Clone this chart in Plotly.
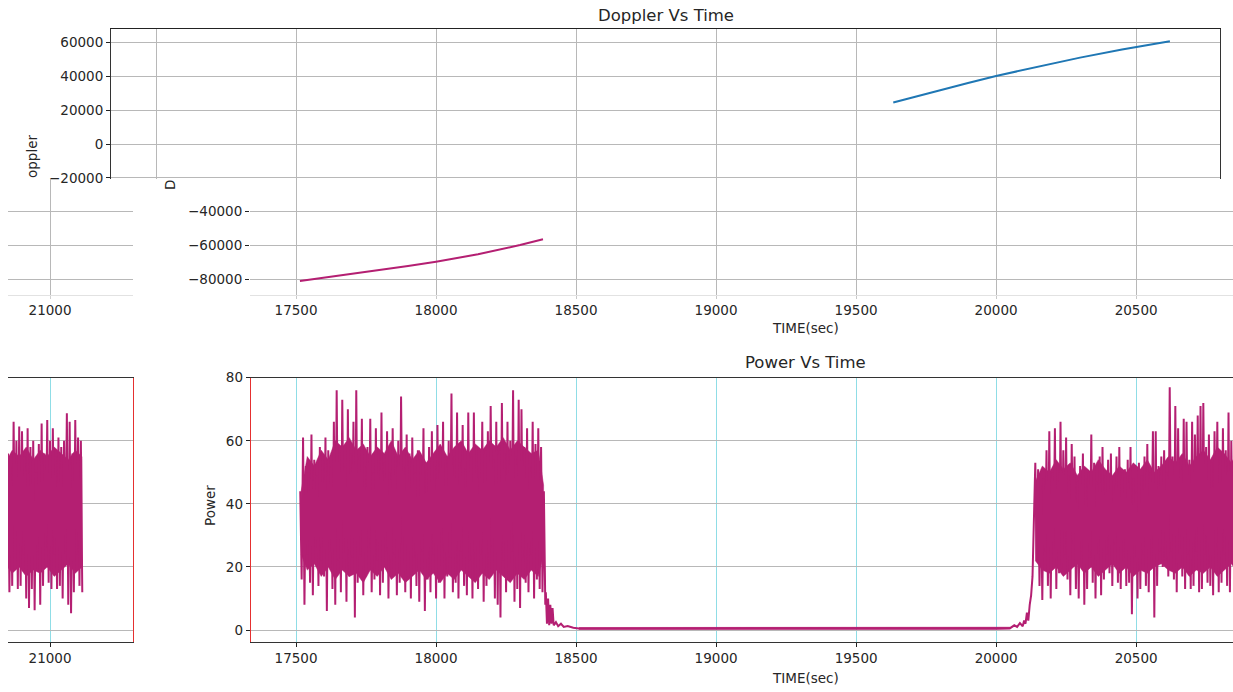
import plotly.graph_objects as go

W, H = 1233, 692

# ---------------- data ----------------
# Doppler tracks (time in s, Doppler in Hz)
dop_blue_t = [19633, 19750, 19900, 20000, 20150, 20300, 20450, 20621]
dop_blue_v = [24500, 29700, 36000, 40200, 45800, 51000, 55800, 60700]

dop_mag_t = [17514, 17700, 17900, 18000, 18150, 18300, 18382]
dop_mag_v = [-81200, -77100, -72300, -69700, -65300, -59800, -56400]

# Power, first pass: sample times start at 17515 s, every 10 s;
# peak (hi) and trough (lo) reading for each sample
pass1_t0 = 17515
pass1_hi = [44, 61, 52, 50, 62, 54, 49, 58, 55, 61, 57, 52, 66, 76, 58, 73, 52, 70, 56, 66,
            76, 55, 67, 52, 58, 67, 50, 64, 56, 69, 53, 63, 50, 64, 55, 60, 74, 52, 62, 56,
            61, 50, 57, 54, 64, 51, 58, 63, 52, 65, 57, 66, 54, 60, 75, 55, 69, 53, 65, 51,
            69, 55, 69, 58, 52, 66, 57, 63, 71, 54, 66, 57, 72, 56, 66, 60, 76, 55, 73, 70,
            58, 64, 52, 66, 59, 64, 58, 44]
pass1_lo = [16, 8, 24, 15, 11, 26, 14, 22, 17, 6, 25, 13, 8, 22, 12, 27, 9, 17, 23, 4,
            15, 24, 11, 17, 26, 12, 16, 22, 11, 15, 25, 10, 17, 24, 11, 15, 27, 12, 16, 10,
            23, 14, 9, 25, 6, 16, 12, 24, 10, 15, 26, 10, 17, 23, 12, 15, 10, 25, 14, 11,
            22, 10, 16, 13, 24, 9, 14, 17, 26, 10, 8, 4, 22, 12, 16, 25, 9, 13, 7, 23,
            15, 12, 24, 10, 16, 13, 12, 8]
# dense core of the first pass (where the samples overlap into a solid band)
core1_t = [17518, 17540, 17565, 17590, 17615, 17640, 17665, 17690, 17715, 17740, 17765, 17790,
           17815, 17840, 17865, 17890, 17915, 17940, 17965, 17990, 18015, 18040, 18065, 18090,
           18115, 18140, 18165, 18190, 18215, 18240, 18265, 18290, 18315, 18340, 18365, 18384]
core1_hi = [44, 55, 52, 57, 54, 60, 58, 61, 57, 59, 55, 58, 56, 60, 55, 58, 54, 57,
            53, 56, 59, 55, 58, 60, 56, 59, 57, 60, 58, 61, 57, 60, 58, 56, 57, 46]
core1_lo = [24, 19, 21, 17, 20, 16, 19, 17, 18, 15, 19, 17, 20, 16, 18, 15, 17, 19,
            16, 18, 15, 18, 16, 19, 17, 15, 18, 16, 19, 17, 15, 18, 16, 19, 17, 24]

# loss of signal
tail_t = [18388, 18392, 18396, 18400, 18404, 18408, 18412, 18416, 18420, 18428, 18436,
          18446, 18456, 18470, 18490]
tail_v = [30, 12, 2, 10, 1.5, 8, 2, 7, 1.5, 2.5, 1.2, 2.0, 1.0, 1.3, 0.7]

# noise floor between passes
floor_t = [18510, 18600, 18800, 19000, 19200, 19400, 19600, 19800, 20000, 20050]
floor_v = [0.5, 0.5, 0.5, 0.4, 0.5, 0.5, 0.4, 0.5, 0.5, 0.6]
floor_hi = [0.8, 0.8, 0.8, 0.7, 0.8, 0.8, 0.7, 0.8, 0.8, 0.9]
floor_lo = [0.2, 0.2, 0.2, 0.1, 0.2, 0.2, 0.1, 0.2, 0.2, 0.3]

# acquisition of signal
rise_t = [20065, 20075, 20085, 20095, 20100, 20105, 20110, 20115, 20120, 20125, 20130]
rise_v = [1.5, 1.0, 2.2, 1.2, 3.0, 2.0, 5.5, 3.0, 8.0, 11, 17]

# Power, second pass: sample times start at 20140 s, every 10 s
pass2_t0 = 20140
pass2_hi = [53, 51, 46, 48, 57, 63, 50, 64, 52, 66, 57, 61, 49, 59, 55, 47, 52, 56, 48, 50,
            62, 53, 47, 55, 58, 49, 54, 56, 46, 55, 58, 50, 51, 54, 58, 48, 44, 53, 49, 55,
            59, 50, 63, 63, 52, 55, 57, 50, 77, 55, 71, 64, 52, 67, 66, 54, 66, 62, 68, 71,
            72, 58, 62, 53, 63, 66, 55, 64, 57, 69, 60, 56, 52, 66, 60, 64.5, 63, 55, 64, 58,
            60, 50, 59, 65.5, 56, 66.6, 60, 64, 55, 61, 58, 60, 68.7, 66, 56, 66.6, 61, 60]
pass2_lo = [22, 14, 9.5, 25, 14, 10, 26, 13, 18, 19.5, 24, 16, 11, 27, 13, 10, 25, 8, 13, 23,
            15, 10, 26, 11, 16, 24, 18, 14, 27, 15, 13, 25, 14, 15, 5, 26, 10, 13, 24, 14,
            12, 26, 4, 14, 25, 20, 22, 17, 25, 16, 12, 26, 17, 13, 24, 13, 14, 25, 12, 13,
            24, 15, 14, 11, 26, 12, 15, 24, 14, 12, 25, 12, 14, 26, 13, 14, 24, 10, 7, 13,
            6.3, 25, 8, 14, 26, 15, 13, 24, 13, 14, 10, 25, 8, 5.3, 12, 24, 14, 12]
core2_t = [20140, 20165, 20190, 20215, 20240, 20265, 20290, 20315, 20340, 20365, 20390, 20415,
           20440, 20465, 20490, 20515, 20540, 20565, 20590, 20615, 20640, 20665, 20690, 20715,
           20740, 20765, 20790, 20815, 20840, 20865, 20890, 20915, 20940, 20965, 20990, 21015,
           21040, 21065, 21090, 21114]
core2_hi = [47, 52, 50, 54, 51, 53, 49, 52, 50, 54, 51, 49, 52, 50, 53, 51, 54, 50, 52, 55,
            53, 56, 52, 55, 57, 54, 58, 56, 53, 57, 55, 58, 54, 57, 55, 58, 56, 54, 57, 55]
core2_lo = [22, 19, 18, 20, 17, 19, 21, 18, 20, 17, 19, 21, 18, 20, 17, 19, 18, 20, 21, 19,
            18, 20, 17, 19, 18, 20, 17, 19, 21, 18, 20, 17, 19, 18, 20, 17, 19, 21, 18, 20]

doppler_ticks = [60000, 40000, 20000, 0, -20000, -40000, -60000, -80000]
power_ticks = [0, 20, 40, 60, 80]
time_ticks = [17000, 17500, 18000, 18500, 19000, 19500, 20000, 20500, 21000]


def interleave(t0, hi, lo, step=10):
    """Each sample contributes its peak then its trough half a step later."""
    ts, vs = [], []
    for i, (a, b) in enumerate(zip(hi, lo)):
        t = t0 + step * i
        ts += [t, t + step / 2]
        vs += [a, b]
    return ts, vs


def band(t, hi, lo):
    """Closed outline of a solid band between two envelopes."""
    return list(t) + list(t)[::-1], list(hi) + list(lo)[::-1]


p1_t, p1_v = interleave(pass1_t0, pass1_hi, pass1_lo)
p2_t, p2_v = interleave(pass2_t0, pass2_hi, pass2_lo)
power_t = p1_t + tail_t + floor_t + rise_t + p2_t
power_v = p1_v + tail_v + floor_v + rise_v + p2_v

# ---------------- styling ----------------
BLUE = "#1f77b4"
MAG = "#b41f72"
GRID = "#b8b8b8"
CYAN = "#8fdde6"
FONT = "DejaVu Sans"
TXT = "#262626"
TICKFONT = dict(family=FONT, size=13.5, color=TXT)


def dx(a, b):
    return [a / W, b / W]


def dy(top, bottom):
    return [1 - bottom / H, 1 - top / H]


fig = go.Figure()

# Doppler traces on axes 1-3, power traces on axes 4-5
for k in ("", "2", "3"):
    fig.add_trace(go.Scatter(x=dop_blue_t, y=dop_blue_v, mode="lines",
                             line=dict(color=BLUE, width=2), xaxis="x" + k, yaxis="y" + k))
    fig.add_trace(go.Scatter(x=dop_mag_t, y=dop_mag_v, mode="lines",
                             line=dict(color=MAG, width=2), xaxis="x" + k, yaxis="y" + k))
for k in ("4", "5"):
    for ct, chi, clo in ((core1_t, core1_hi, core1_lo), (core2_t, core2_hi, core2_lo),
                         (floor_t, floor_hi, floor_lo)):
        bx, by = band(ct, chi, clo)
        fig.add_trace(go.Scatter(x=bx, y=by, mode="lines", fill="toself", fillcolor=MAG,
                                 line=dict(color=MAG, width=0.5), xaxis="x" + k, yaxis="y" + k))
    fig.add_trace(go.Scatter(x=power_t, y=power_v, mode="lines",
                             line=dict(color=MAG, width=2), xaxis="x" + k, yaxis="y" + k))

common_x = dict(tickmode="array", tickvals=time_ticks, ticktext=[str(v) for v in time_ticks],
                showgrid=True, gridwidth=1, zeroline=False, tickfont=TICKFONT, automargin=False)
common_yd = dict(tickmode="array", tickvals=doppler_ticks, showgrid=True, gridcolor=GRID,
                 gridwidth=1, zeroline=False, tickfont=TICKFONT, tickformat="d", automargin=False)
common_yp = dict(tickmode="array", tickvals=power_ticks, showgrid=True, gridcolor=GRID,
                 gridwidth=1, zeroline=False, tickfont=TICKFONT, automargin=False)

fig.update_layout(
    template="none",
    width=W, height=H,
    margin=dict(l=0, r=0, t=0, b=0, pad=0, autoexpand=False),
    paper_bgcolor="white", plot_bgcolor="white",
    showlegend=False, hovermode=False,
    # Doppler, upper part
    xaxis=dict(common_x, domain=dx(111, 1220), range=[16839, 20800], anchor="y",
               gridcolor=GRID, showticklabels=False, ticks="", side="top",
               showline=True, linecolor="#222", linewidth=1),
    yaxis=dict(common_yd, domain=dy(29.3, 179), range=[-20600, 67700], anchor="x",
               ticks="outside", ticklen=4, tickcolor="#222",
               showline=True, linecolor="#333", linewidth=1, mirror=True),
    # Doppler, lower part
    xaxis2=dict(common_x, domain=dx(250, 1233), range=[17335.7, 20846], anchor="y2",
                gridcolor=GRID, ticks="outside", ticklen=3, tickcolor="#c8c8c8",
                showline=True, linecolor="#e2e2e2", linewidth=1),
    yaxis2=dict(common_yd, domain=dy(179, 295), range=[-89500, -20600], anchor="x2",
                ticks="outside", ticklen=4, tickcolor="#222", showline=False),
    # Doppler, continuation strip
    xaxis3=dict(common_x, domain=dx(8, 133), range=[20850, 21296], anchor="y3",
                gridcolor=GRID, ticks="outside", ticklen=3, tickcolor="#d0d0d0",
                showline=True, linecolor="#e2e2e2", linewidth=1),
    yaxis3=dict(common_yd, domain=dy(179, 295), range=[-89500, -20600], anchor="x3",
                showticklabels=False, ticks="", showline=False),
    # Power
    xaxis4=dict(common_x, domain=dx(250.7, 1233), range=[17338, 20846], anchor="y4",
                gridcolor=CYAN, ticks="outside", ticklen=4, tickcolor="#222",
                showline=True, linecolor="#333", linewidth=1, mirror=True),
    yaxis4=dict(common_yp, domain=dy(377.7, 641.7), range=[-3.7, 80], anchor="x4",
                ticks="outside", ticklen=4, tickcolor="#222",
                showline=True, linecolor="#e53030", linewidth=1),
    # Power, continuation strip
    xaxis5=dict(common_x, domain=dx(8, 133), range=[20850, 21296], anchor="y5",
                gridcolor=CYAN, ticks="outside", ticklen=4, tickcolor="#222",
                showline=True, linecolor="#333", linewidth=1, mirror=True),
    yaxis5=dict(common_yp, domain=dy(377.7, 641.7), range=[-3.7, 80], anchor="x5",
                showticklabels=False, ticks="", side="right",
                showline=True, linecolor="#e53030", linewidth=1),
)


def label(text, x, y, size=13.5, angle=0):
    fig.add_annotation(text=text, x=x / W, y=1 - y / H, xref="paper", yref="paper",
                       showarrow=False, textangle=angle, xanchor="center", yanchor="middle",
                       font=dict(family=FONT, size=size, color=TXT))


label("Doppler Vs Time", 665.5, 15, size=16.5)
label("oppler", 32, 157, angle=-90)
label("D", 170, 185, angle=-90)
label("TIME(sec)", 805, 328)
label("Power Vs Time", 805, 362, size=16.5)
label("TIME(sec)", 805, 678)
label("Power", 210, 505, angle=-90)

fig.write_html("out.html")
